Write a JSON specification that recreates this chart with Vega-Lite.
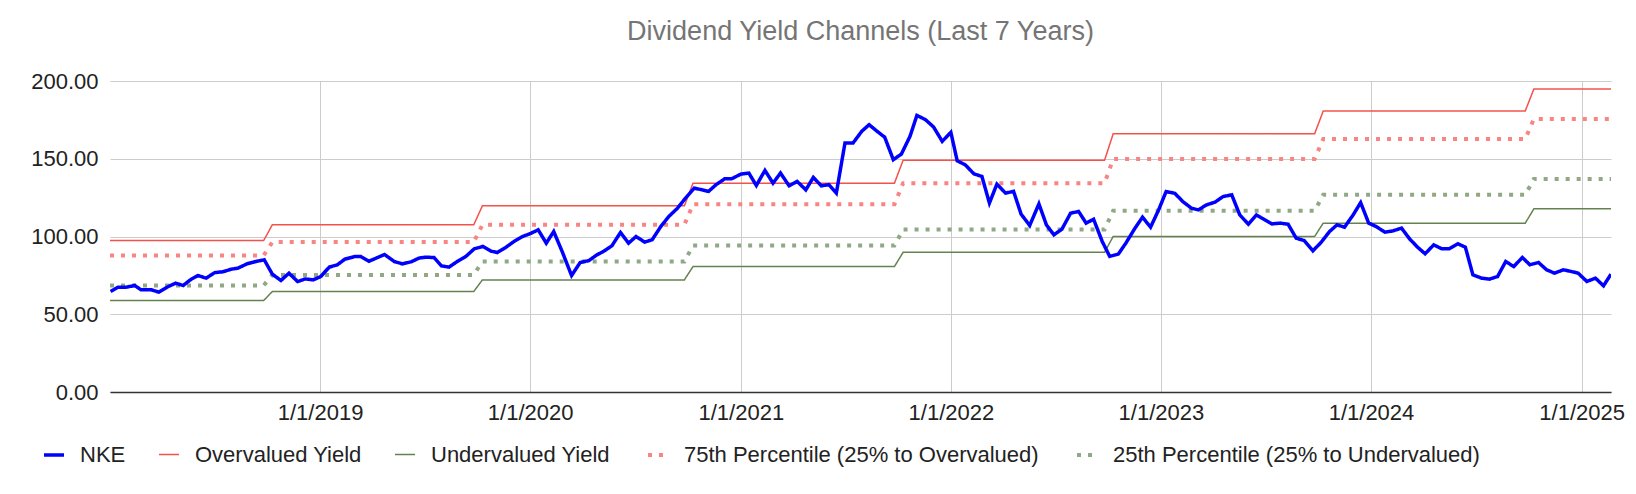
{
  "$schema": "https://vega.github.io/schema/vega-lite/v6.json",
  "width": 1501,
  "height": 311,
  "autosize": "none",
  "padding": {"left": 110, "top": 81, "right": 25, "bottom": 102},
  "background": "white",
  "config": {
    "font": "Liberation Sans, Arial, sans-serif",
    "view": {"stroke": null}
  },
  "title": {
    "text": "Dividend Yield Channels (Last 7 Years)",
    "fontSize": 27,
    "fontWeight": "normal",
    "color": "#757575",
    "offset": 24,
    "anchor": "middle"
  },
  "data": {
    "values": [
      {"d": "2018-01-01", "s": "Overvalued Yield", "v": 97.4},
      {"d": "2018-09-25", "s": "Overvalued Yield", "v": 97.4},
      {"d": "2018-10-10", "s": "Overvalued Yield", "v": 107.5},
      {"d": "2019-09-25", "s": "Overvalued Yield", "v": 107.5},
      {"d": "2019-10-10", "s": "Overvalued Yield", "v": 119.7},
      {"d": "2020-09-25", "s": "Overvalued Yield", "v": 119.7},
      {"d": "2020-10-10", "s": "Overvalued Yield", "v": 134.3},
      {"d": "2021-09-25", "s": "Overvalued Yield", "v": 134.3},
      {"d": "2021-10-10", "s": "Overvalued Yield", "v": 149},
      {"d": "2022-09-25", "s": "Overvalued Yield", "v": 149},
      {"d": "2022-10-10", "s": "Overvalued Yield", "v": 166},
      {"d": "2023-09-25", "s": "Overvalued Yield", "v": 166},
      {"d": "2023-10-10", "s": "Overvalued Yield", "v": 180.7},
      {"d": "2024-09-25", "s": "Overvalued Yield", "v": 180.7},
      {"d": "2024-10-10", "s": "Overvalued Yield", "v": 194.9},
      {"d": "2025-02-21", "s": "Overvalued Yield", "v": 194.9},

      {"d": "2018-01-01", "s": "75th Percentile (25% to Overvalued)", "v": 87.8},
      {"d": "2018-09-25", "s": "75th Percentile (25% to Overvalued)", "v": 87.8},
      {"d": "2018-10-10", "s": "75th Percentile (25% to Overvalued)", "v": 96.4},
      {"d": "2019-09-25", "s": "75th Percentile (25% to Overvalued)", "v": 96.4},
      {"d": "2019-10-10", "s": "75th Percentile (25% to Overvalued)", "v": 107.5},
      {"d": "2020-09-25", "s": "75th Percentile (25% to Overvalued)", "v": 107.5},
      {"d": "2020-10-10", "s": "75th Percentile (25% to Overvalued)", "v": 120.8},
      {"d": "2021-09-25", "s": "75th Percentile (25% to Overvalued)", "v": 120.8},
      {"d": "2021-10-10", "s": "75th Percentile (25% to Overvalued)", "v": 134.2},
      {"d": "2022-09-25", "s": "75th Percentile (25% to Overvalued)", "v": 134.2},
      {"d": "2022-10-10", "s": "75th Percentile (25% to Overvalued)", "v": 149.9},
      {"d": "2023-09-25", "s": "75th Percentile (25% to Overvalued)", "v": 149.9},
      {"d": "2023-10-10", "s": "75th Percentile (25% to Overvalued)", "v": 162.7},
      {"d": "2024-09-25", "s": "75th Percentile (25% to Overvalued)", "v": 162.7},
      {"d": "2024-10-10", "s": "75th Percentile (25% to Overvalued)", "v": 175.6},
      {"d": "2025-02-21", "s": "75th Percentile (25% to Overvalued)", "v": 175.6},

      {"d": "2018-01-01", "s": "25th Percentile (25% to Undervalued)", "v": 68.5},
      {"d": "2018-09-25", "s": "25th Percentile (25% to Undervalued)", "v": 68.5},
      {"d": "2018-10-10", "s": "25th Percentile (25% to Undervalued)", "v": 75.3},
      {"d": "2019-09-25", "s": "25th Percentile (25% to Undervalued)", "v": 75.3},
      {"d": "2019-10-10", "s": "25th Percentile (25% to Undervalued)", "v": 83.9},
      {"d": "2020-09-25", "s": "25th Percentile (25% to Undervalued)", "v": 83.9},
      {"d": "2020-10-10", "s": "25th Percentile (25% to Undervalued)", "v": 94.2},
      {"d": "2021-09-25", "s": "25th Percentile (25% to Undervalued)", "v": 94.2},
      {"d": "2021-10-10", "s": "25th Percentile (25% to Undervalued)", "v": 104.5},
      {"d": "2022-09-25", "s": "25th Percentile (25% to Undervalued)", "v": 104.5},
      {"d": "2022-10-10", "s": "25th Percentile (25% to Undervalued)", "v": 116.5},
      {"d": "2023-09-25", "s": "25th Percentile (25% to Undervalued)", "v": 116.5},
      {"d": "2023-10-10", "s": "25th Percentile (25% to Undervalued)", "v": 126.8},
      {"d": "2024-09-25", "s": "25th Percentile (25% to Undervalued)", "v": 126.8},
      {"d": "2024-10-10", "s": "25th Percentile (25% to Undervalued)", "v": 137},
      {"d": "2025-02-21", "s": "25th Percentile (25% to Undervalued)", "v": 137},

      {"d": "2018-01-01", "s": "Undervalued Yield", "v": 58.8},
      {"d": "2018-09-25", "s": "Undervalued Yield", "v": 58.8},
      {"d": "2018-10-10", "s": "Undervalued Yield", "v": 64.6},
      {"d": "2019-09-25", "s": "Undervalued Yield", "v": 64.6},
      {"d": "2019-10-10", "s": "Undervalued Yield", "v": 72.1},
      {"d": "2020-09-25", "s": "Undervalued Yield", "v": 72.1},
      {"d": "2020-10-10", "s": "Undervalued Yield", "v": 80.7},
      {"d": "2021-09-25", "s": "Undervalued Yield", "v": 80.7},
      {"d": "2021-10-10", "s": "Undervalued Yield", "v": 89.8},
      {"d": "2022-09-25", "s": "Undervalued Yield", "v": 89.8},
      {"d": "2022-10-10", "s": "Undervalued Yield", "v": 100},
      {"d": "2023-09-25", "s": "Undervalued Yield", "v": 100},
      {"d": "2023-10-10", "s": "Undervalued Yield", "v": 108.6},
      {"d": "2024-09-25", "s": "Undervalued Yield", "v": 108.6},
      {"d": "2024-10-10", "s": "Undervalued Yield", "v": 117.8},
      {"d": "2025-02-21", "s": "Undervalued Yield", "v": 117.8},

      {"d": "2018-01-02", "s": "NKE", "v": 64.6},
      {"d": "2018-01-15", "s": "NKE", "v": 67.4},
      {"d": "2018-01-29", "s": "NKE", "v": 67.4},
      {"d": "2018-02-13", "s": "NKE", "v": 68.5},
      {"d": "2018-02-24", "s": "NKE", "v": 65.7},
      {"d": "2018-03-14", "s": "NKE", "v": 65.7},
      {"d": "2018-03-27", "s": "NKE", "v": 64.2},
      {"d": "2018-04-10", "s": "NKE", "v": 67.4},
      {"d": "2018-04-25", "s": "NKE", "v": 70},
      {"d": "2018-05-08", "s": "NKE", "v": 68.5},
      {"d": "2018-05-22", "s": "NKE", "v": 72.5},
      {"d": "2018-06-03", "s": "NKE", "v": 74.9},
      {"d": "2018-06-17", "s": "NKE", "v": 73.2},
      {"d": "2018-07-02", "s": "NKE", "v": 76.8},
      {"d": "2018-07-16", "s": "NKE", "v": 77.3},
      {"d": "2018-07-31", "s": "NKE", "v": 79},
      {"d": "2018-08-11", "s": "NKE", "v": 79.6},
      {"d": "2018-08-27", "s": "NKE", "v": 82.4},
      {"d": "2018-09-11", "s": "NKE", "v": 83.9},
      {"d": "2018-09-26", "s": "NKE", "v": 85},
      {"d": "2018-10-10", "s": "NKE", "v": 75.8},
      {"d": "2018-10-25", "s": "NKE", "v": 71.7},
      {"d": "2018-11-08", "s": "NKE", "v": 76.4},
      {"d": "2018-11-23", "s": "NKE", "v": 71},
      {"d": "2018-12-06", "s": "NKE", "v": 72.7},
      {"d": "2018-12-20", "s": "NKE", "v": 72.1},
      {"d": "2019-01-02", "s": "NKE", "v": 74.2},
      {"d": "2019-01-17", "s": "NKE", "v": 80.3},
      {"d": "2019-01-31", "s": "NKE", "v": 81.8},
      {"d": "2019-02-13", "s": "NKE", "v": 85.4},
      {"d": "2019-03-02", "s": "NKE", "v": 87.1},
      {"d": "2019-03-13", "s": "NKE", "v": 87.1},
      {"d": "2019-03-27", "s": "NKE", "v": 84.1},
      {"d": "2019-04-11", "s": "NKE", "v": 86.5},
      {"d": "2019-04-23", "s": "NKE", "v": 88.4},
      {"d": "2019-05-10", "s": "NKE", "v": 83.9},
      {"d": "2019-05-24", "s": "NKE", "v": 82.4},
      {"d": "2019-06-08", "s": "NKE", "v": 83.7},
      {"d": "2019-06-22", "s": "NKE", "v": 86.1},
      {"d": "2019-07-03", "s": "NKE", "v": 86.7},
      {"d": "2019-07-18", "s": "NKE", "v": 86.5},
      {"d": "2019-07-31", "s": "NKE", "v": 81.1},
      {"d": "2019-08-13", "s": "NKE", "v": 80.3},
      {"d": "2019-08-28", "s": "NKE", "v": 84.1},
      {"d": "2019-09-11", "s": "NKE", "v": 87.1},
      {"d": "2019-09-26", "s": "NKE", "v": 92.1},
      {"d": "2019-10-11", "s": "NKE", "v": 93.6},
      {"d": "2019-10-25", "s": "NKE", "v": 90.6},
      {"d": "2019-11-05", "s": "NKE", "v": 89.7},
      {"d": "2019-11-20", "s": "NKE", "v": 93.1},
      {"d": "2019-12-04", "s": "NKE", "v": 96.8},
      {"d": "2019-12-19", "s": "NKE", "v": 100},
      {"d": "2020-01-02", "s": "NKE", "v": 102},
      {"d": "2020-01-15", "s": "NKE", "v": 104.3},
      {"d": "2020-01-29", "s": "NKE", "v": 95.7},
      {"d": "2020-02-11", "s": "NKE", "v": 103.2},
      {"d": "2020-02-26", "s": "NKE", "v": 90},
      {"d": "2020-03-13", "s": "NKE", "v": 74.9},
      {"d": "2020-03-28", "s": "NKE", "v": 83.3},
      {"d": "2020-04-12", "s": "NKE", "v": 84.5},
      {"d": "2020-04-26", "s": "NKE", "v": 88.2},
      {"d": "2020-05-07", "s": "NKE", "v": 90.3},
      {"d": "2020-05-22", "s": "NKE", "v": 94},
      {"d": "2020-06-06", "s": "NKE", "v": 102.6},
      {"d": "2020-06-20", "s": "NKE", "v": 95.7},
      {"d": "2020-07-03", "s": "NKE", "v": 100},
      {"d": "2020-07-18", "s": "NKE", "v": 96.4},
      {"d": "2020-07-31", "s": "NKE", "v": 97.9},
      {"d": "2020-08-15", "s": "NKE", "v": 106.4},
      {"d": "2020-08-29", "s": "NKE", "v": 112.9},
      {"d": "2020-09-13", "s": "NKE", "v": 118.2},
      {"d": "2020-09-27", "s": "NKE", "v": 124.7},
      {"d": "2020-10-12", "s": "NKE", "v": 131.1},
      {"d": "2020-10-26", "s": "NKE", "v": 130},
      {"d": "2020-11-06", "s": "NKE", "v": 129},
      {"d": "2020-11-19", "s": "NKE", "v": 133.3},
      {"d": "2020-12-04", "s": "NKE", "v": 137.1},
      {"d": "2020-12-16", "s": "NKE", "v": 137.1},
      {"d": "2021-01-01", "s": "NKE", "v": 140.1},
      {"d": "2021-01-15", "s": "NKE", "v": 140.8},
      {"d": "2021-01-28", "s": "NKE", "v": 132.8},
      {"d": "2021-02-12", "s": "NKE", "v": 142.5},
      {"d": "2021-02-26", "s": "NKE", "v": 134.3},
      {"d": "2021-03-11", "s": "NKE", "v": 140.8},
      {"d": "2021-03-26", "s": "NKE", "v": 132.6},
      {"d": "2021-04-09", "s": "NKE", "v": 135.4},
      {"d": "2021-04-24", "s": "NKE", "v": 130},
      {"d": "2021-05-07", "s": "NKE", "v": 138},
      {"d": "2021-05-21", "s": "NKE", "v": 132.6},
      {"d": "2021-06-03", "s": "NKE", "v": 133.3},
      {"d": "2021-06-16", "s": "NKE", "v": 127.9},
      {"d": "2021-07-01", "s": "NKE", "v": 160.1},
      {"d": "2021-07-15", "s": "NKE", "v": 160.1},
      {"d": "2021-07-30", "s": "NKE", "v": 167.6},
      {"d": "2021-08-12", "s": "NKE", "v": 171.9},
      {"d": "2021-08-26", "s": "NKE", "v": 167.6},
      {"d": "2021-09-08", "s": "NKE", "v": 163.9},
      {"d": "2021-09-23", "s": "NKE", "v": 149.4},
      {"d": "2021-10-07", "s": "NKE", "v": 153},
      {"d": "2021-10-22", "s": "NKE", "v": 164.4},
      {"d": "2021-11-03", "s": "NKE", "v": 177.9},
      {"d": "2021-11-18", "s": "NKE", "v": 175.1},
      {"d": "2021-12-02", "s": "NKE", "v": 170.4},
      {"d": "2021-12-17", "s": "NKE", "v": 161.2},
      {"d": "2022-01-01", "s": "NKE", "v": 167},
      {"d": "2022-01-12", "s": "NKE", "v": 148.7},
      {"d": "2022-01-26", "s": "NKE", "v": 146.1},
      {"d": "2022-02-10", "s": "NKE", "v": 140.3},
      {"d": "2022-02-24", "s": "NKE", "v": 138.6},
      {"d": "2022-03-09", "s": "NKE", "v": 121.5},
      {"d": "2022-03-22", "s": "NKE", "v": 133.7},
      {"d": "2022-04-06", "s": "NKE", "v": 127.9},
      {"d": "2022-04-20", "s": "NKE", "v": 129},
      {"d": "2022-05-03", "s": "NKE", "v": 114.4},
      {"d": "2022-05-18", "s": "NKE", "v": 107.1},
      {"d": "2022-06-03", "s": "NKE", "v": 121},
      {"d": "2022-06-16", "s": "NKE", "v": 107.5},
      {"d": "2022-06-29", "s": "NKE", "v": 101.1},
      {"d": "2022-07-13", "s": "NKE", "v": 104.7},
      {"d": "2022-07-28", "s": "NKE", "v": 115},
      {"d": "2022-08-11", "s": "NKE", "v": 116.1},
      {"d": "2022-08-24", "s": "NKE", "v": 108.6},
      {"d": "2022-09-06", "s": "NKE", "v": 111.1},
      {"d": "2022-09-21", "s": "NKE", "v": 96.8},
      {"d": "2022-10-04", "s": "NKE", "v": 87.2},
      {"d": "2022-10-19", "s": "NKE", "v": 88.7},
      {"d": "2022-11-01", "s": "NKE", "v": 95.7},
      {"d": "2022-11-17", "s": "NKE", "v": 105.4},
      {"d": "2022-11-30", "s": "NKE", "v": 112.4},
      {"d": "2022-12-14", "s": "NKE", "v": 106},
      {"d": "2022-12-28", "s": "NKE", "v": 117.1},
      {"d": "2023-01-10", "s": "NKE", "v": 128.9},
      {"d": "2023-01-25", "s": "NKE", "v": 127.8},
      {"d": "2023-02-08", "s": "NKE", "v": 122.5},
      {"d": "2023-02-23", "s": "NKE", "v": 118.2},
      {"d": "2023-03-07", "s": "NKE", "v": 117.1},
      {"d": "2023-03-21", "s": "NKE", "v": 120.3},
      {"d": "2023-04-05", "s": "NKE", "v": 122.1},
      {"d": "2023-04-19", "s": "NKE", "v": 125.7},
      {"d": "2023-05-04", "s": "NKE", "v": 126.8},
      {"d": "2023-05-18", "s": "NKE", "v": 113.9},
      {"d": "2023-06-02", "s": "NKE", "v": 107.9},
      {"d": "2023-06-16", "s": "NKE", "v": 113.9},
      {"d": "2023-06-29", "s": "NKE", "v": 111.1},
      {"d": "2023-07-13", "s": "NKE", "v": 108.1},
      {"d": "2023-07-27", "s": "NKE", "v": 108.6},
      {"d": "2023-08-10", "s": "NKE", "v": 107.9},
      {"d": "2023-08-24", "s": "NKE", "v": 98.9},
      {"d": "2023-09-07", "s": "NKE", "v": 97.4},
      {"d": "2023-09-22", "s": "NKE", "v": 90.8},
      {"d": "2023-10-06", "s": "NKE", "v": 96.1},
      {"d": "2023-10-21", "s": "NKE", "v": 103.2},
      {"d": "2023-11-03", "s": "NKE", "v": 107.5},
      {"d": "2023-11-16", "s": "NKE", "v": 106},
      {"d": "2023-12-01", "s": "NKE", "v": 113.9},
      {"d": "2023-12-14", "s": "NKE", "v": 121.8},
      {"d": "2023-12-28", "s": "NKE", "v": 108.6},
      {"d": "2024-01-10", "s": "NKE", "v": 106.4},
      {"d": "2024-01-25", "s": "NKE", "v": 102.8},
      {"d": "2024-02-08", "s": "NKE", "v": 103.6},
      {"d": "2024-02-23", "s": "NKE", "v": 105.4},
      {"d": "2024-03-08", "s": "NKE", "v": 98.5},
      {"d": "2024-03-22", "s": "NKE", "v": 93.1},
      {"d": "2024-04-04", "s": "NKE", "v": 88.9},
      {"d": "2024-04-19", "s": "NKE", "v": 94.6},
      {"d": "2024-05-03", "s": "NKE", "v": 92.1},
      {"d": "2024-05-16", "s": "NKE", "v": 92.1},
      {"d": "2024-05-31", "s": "NKE", "v": 95.3},
      {"d": "2024-06-13", "s": "NKE", "v": 93.1},
      {"d": "2024-06-26", "s": "NKE", "v": 75.4},
      {"d": "2024-07-11", "s": "NKE", "v": 73.2},
      {"d": "2024-07-25", "s": "NKE", "v": 72.6},
      {"d": "2024-08-08", "s": "NKE", "v": 74.3},
      {"d": "2024-08-22", "s": "NKE", "v": 83.9},
      {"d": "2024-09-05", "s": "NKE", "v": 80.7},
      {"d": "2024-09-20", "s": "NKE", "v": 86.5},
      {"d": "2024-10-03", "s": "NKE", "v": 81.8},
      {"d": "2024-10-18", "s": "NKE", "v": 83.3},
      {"d": "2024-11-01", "s": "NKE", "v": 78.6},
      {"d": "2024-11-15", "s": "NKE", "v": 76.4},
      {"d": "2024-11-30", "s": "NKE", "v": 78.6},
      {"d": "2024-12-14", "s": "NKE", "v": 77.5},
      {"d": "2024-12-26", "s": "NKE", "v": 76.4},
      {"d": "2025-01-10", "s": "NKE", "v": 71.1},
      {"d": "2025-01-25", "s": "NKE", "v": 73.2},
      {"d": "2025-02-08", "s": "NKE", "v": 68.3},
      {"d": "2025-02-21", "s": "NKE", "v": 75.8}
    ]
  },
  "mark": {"type": "line", "clip": true},
  "encoding": {
    "x": {
      "field": "d",
      "type": "temporal",
      "title": null,
      "scale": {"domain": ["2018-01-01", "2025-02-21"]},
      "axis": {
        "values": [
          {"year": 2019, "month": 1, "date": 1},
          {"year": 2020, "month": 1, "date": 1},
          {"year": 2021, "month": 1, "date": 1},
          {"year": 2022, "month": 1, "date": 1},
          {"year": 2023, "month": 1, "date": 1},
          {"year": 2024, "month": 1, "date": 1},
          {"year": 2025, "month": 1, "date": 1}
        ],
        "format": "%-m/%-d/%Y",
        "labelFontSize": 22,
        "labelColor": "#222222",
        "labelPadding": 10,
        "ticks": false,
        "grid": true,
        "gridColor": "#cccccc",
        "domainColor": "#333333",
        "domainWidth": 1.5
      }
    },
    "y": {
      "field": "v",
      "type": "quantitative",
      "title": null,
      "scale": {"domain": [0, 200], "nice": false},
      "axis": {
        "values": [0, 50, 100, 150, 200],
        "format": ".2f",
        "labelFontSize": 22,
        "labelColor": "#222222",
        "labelPadding": 12,
        "ticks": false,
        "domain": false,
        "gridColor": "#cccccc"
      }
    },
    "color": {
      "field": "s",
      "type": "nominal",
      "sort": ["NKE", "Overvalued Yield", "Undervalued Yield", "75th Percentile (25% to Overvalued)", "25th Percentile (25% to Undervalued)"],
      "scale": {
        "domain": ["NKE", "Overvalued Yield", "Undervalued Yield", "75th Percentile (25% to Overvalued)", "25th Percentile (25% to Undervalued)"],
        "range": ["#0000ff", "#f4514b", "#64824f", "#f88582", "#90a886"]
      },
      "legend": {
        "title": null,
        "orient": "none",
        "legendX": -68,
        "legendY": 362,
        "direction": "horizontal",
        "columns": 5,
        "columnPadding": 30,
        "labelFontSize": 22,
        "labelLimit": 0,
        "labelColor": "#222222",
        "symbolType": "stroke",
        "symbolStrokeWidth": 5,
        "symbolSize": 400,
        "labelOffset": 14
      }
    },
    "strokeDash": {
      "field": "s",
      "type": "nominal",
      "sort": ["NKE", "Overvalued Yield", "Undervalued Yield", "75th Percentile (25% to Overvalued)", "25th Percentile (25% to Undervalued)"],
      "scale": {
        "domain": ["NKE", "Overvalued Yield", "Undervalued Yield", "75th Percentile (25% to Overvalued)", "25th Percentile (25% to Undervalued)"],
        "range": [[1, 0], [1, 0], [1, 0], [4, 7], [4, 7]]
      },
      "legend": null
    },
    "strokeWidth": {
      "field": "s",
      "type": "nominal",
      "scale": {
        "type": "ordinal",
        "domain": ["NKE", "Overvalued Yield", "Undervalued Yield", "75th Percentile (25% to Overvalued)", "25th Percentile (25% to Undervalued)"],
        "range": [3.5, 1.5, 1.5, 4, 4]
      },
      "legend": null
    },
    "order": {"field": "s", "sort": "descending"}
  }
}
